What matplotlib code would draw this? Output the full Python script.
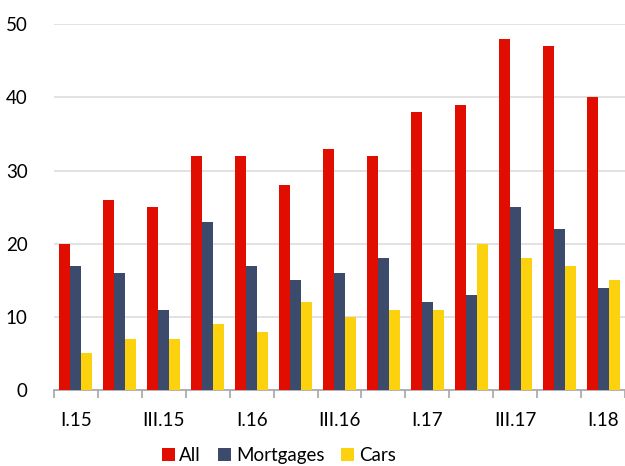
import numpy as np
import matplotlib.pyplot as plt

plt.rcParams['font.family'] = ['Lato', 'DejaVu Sans']

# Quarterly data, I.15 .. I.18
quarters = ['I.15', 'II.15', 'III.15', 'IV.15', 'I.16', 'II.16', 'III.16',
            'IV.16', 'I.17', 'II.17', 'III.17', 'IV.17', 'I.18']
all_loans = [20, 26, 25, 32, 32, 28, 33, 32, 38, 39, 48, 47, 40]
mortgages = [17, 16, 11, 23, 17, 15, 16, 18, 12, 13, 25, 22, 14]
cars = [5, 7, 7, 9, 8, 12, 10, 11, 11, 20, 18, 17, 15]

fig = plt.figure(figsize=(6.25, 4.66), dpi=100)
ax = fig.add_axes([0.0864, 0.163, 0.9136, 0.785])

x = np.arange(len(quarters))
w = 0.25
ax.bar(x - w, all_loans, w, color='#E00D00', label='All', zorder=3)
ax.bar(x, mortgages, w, color='#3C4A6B', label='Mortgages', zorder=3)
ax.bar(x + w, cars, w, color='#FCD20F', label='Cars', zorder=3)

ax.set_xlim(-0.5, len(quarters) - 0.5)
ax.set_ylim(0, 50)
ax.set_yticks([0, 10, 20, 30, 40, 50])
ax.yaxis.grid(True, color='#DDDDDD', linewidth=1.2, zorder=0)

# labels on every other quarter, ticks on group boundaries
ax.set_xticks(x[::2])
ax.set_xticklabels(quarters[::2])
ax.set_xticks(np.arange(len(quarters) + 1) - 0.5, minor=True)
ax.tick_params(axis='x', which='major', length=0, pad=16, labelsize=13.5)
ax.tick_params(axis='x', which='minor', length=6, color='#A6A6A6', width=1.2)
ax.tick_params(axis='y', length=0, pad=19, labelsize=13.5)

for s in ['top', 'right', 'left']:
    ax.spines[s].set_visible(False)
ax.spines['bottom'].set_color('#A6A6A6')
ax.spines['bottom'].set_linewidth(1.2)

fig.legend(loc='center', bbox_to_anchor=(0.446, 0.022), ncol=3, frameon=False,
           fontsize=13.5, handlelength=0.7, handleheight=0.7, handletextpad=0.25,
           columnspacing=0.9, borderpad=0.1)

fig.savefig('out.png', dpi=100)
